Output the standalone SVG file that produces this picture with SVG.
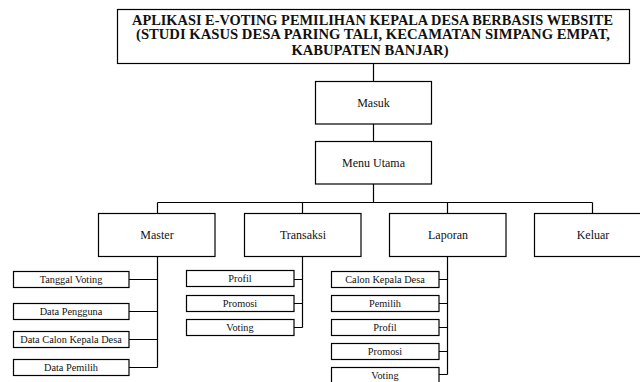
<svg xmlns="http://www.w3.org/2000/svg" width="640" height="382" viewBox="0 0 640 382">
<style>
.box{fill:#fff;stroke:#000;stroke-width:1.2}
.ln{fill:none;stroke:#000;stroke-width:1.2}
.t{font-family:"Liberation Serif","Times New Roman",serif;fill:#111;text-anchor:middle}
.title{font-size:14.5px;font-weight:bold}
.m{font-size:12px}
.s{font-size:10.3px}
</style>
<rect width="640" height="382" fill="#fff"/>
<g id="connectors">
<path class="ln" d="M373.5 64V82M373.5 124V141M373.5 184V202.5M157.5 202.5H592.5M157.5 202.5V213M302.5 202.5V213M447.5 202.5V213M592.5 202.5V213"/>
<path class="ln" d="M157.5 257V367.5M129 279.5H157.5M129 311.5H157.5M129 339.5H157.5M129 367.5H157.5"/>
<path class="ln" d="M302.5 257V327.5M294 279.5H302.5M294 303.5H302.5M294 327.5H302.5"/>
<path class="ln" d="M447.5 257V374.5M439 279.5H447.5M439 303.5H447.5M439 327.5H447.5M439 351.5H447.5M439 374.5H447.5"/>
</g>
<g id="title">
<rect class="box" x="117.5" y="9.5" width="512" height="54"/>
<text class="t title" x="372.5" y="24.5" textLength="481" lengthAdjust="spacingAndGlyphs">APLIKASI E-VOTING PEMILIHAN KEPALA DESA BERBASIS WEBSITE</text>
<text class="t title" x="373" y="39" textLength="474" lengthAdjust="spacingAndGlyphs">(STUDI KASUS DESA PARING TALI, KECAMATAN SIMPANG EMPAT,</text>
<text class="t title" x="370" y="55" textLength="157" lengthAdjust="spacingAndGlyphs">KABUPATEN BANJAR)</text>
</g>
<g id="masuk"><rect class="box" x="315.5" y="81.5" width="116" height="42.5"/><text class="t m" x="373.5" y="107">Masuk</text></g>
<g id="menu-utama"><rect class="box" x="315.5" y="141.5" width="116" height="42.5"/><text class="t m" x="373.5" y="167">Menu Utama</text></g>
<g id="master"><rect class="box" x="98.5" y="213.5" width="116.5" height="43"/><text class="t m" x="157" y="239">Master</text></g>
<g id="transaksi"><rect class="box" x="244.5" y="213.5" width="116.5" height="43"/><text class="t m" x="303" y="239">Transaksi</text></g>
<g id="laporan"><rect class="box" x="389.5" y="213.5" width="116.5" height="43"/><text class="t m" x="448" y="239">Laporan</text></g>
<g id="keluar"><rect class="box" x="534.5" y="213.5" width="116.5" height="43"/><text class="t m" x="593" y="239">Keluar</text></g>
<g id="tanggal-voting"><rect class="box" x="13.5" y="271.5" width="115.5" height="16"/><text class="t s" x="71" y="283">Tanggal Voting</text></g>
<g id="data-pengguna"><rect class="box" x="13.5" y="303.5" width="115.5" height="16"/><text class="t s" x="71" y="315">Data Pengguna</text></g>
<g id="data-calon"><rect class="box" x="13.5" y="331.5" width="115.5" height="16"/><text class="t s" x="71" y="343">Data Calon Kepala Desa</text></g>
<g id="data-pemilih"><rect class="box" x="13.5" y="359.5" width="115.5" height="16"/><text class="t s" x="71" y="371">Data Pemilih</text></g>
<g id="t-profil"><rect class="box" x="186.5" y="270.5" width="107.5" height="16"/><text class="t s" x="240" y="282">Profil</text></g>
<g id="t-promosi"><rect class="box" x="186.5" y="295.5" width="107.5" height="16"/><text class="t s" x="240" y="307">Promosi</text></g>
<g id="t-voting"><rect class="box" x="186.5" y="319.5" width="107.5" height="16"/><text class="t s" x="240" y="331">Voting</text></g>
<g id="l-calon"><rect class="box" x="331.5" y="271.5" width="107.5" height="16"/><text class="t s" x="385" y="283">Calon Kepala Desa</text></g>
<g id="l-pemilih"><rect class="box" x="331.5" y="295.5" width="107.5" height="16"/><text class="t s" x="385" y="307">Pemilih</text></g>
<g id="l-profil"><rect class="box" x="331.5" y="319.5" width="107.5" height="16"/><text class="t s" x="385" y="331">Profil</text></g>
<g id="l-promosi"><rect class="box" x="331.5" y="343.5" width="107.5" height="16"/><text class="t s" x="385" y="355">Promosi</text></g>
<g id="l-voting"><rect class="box" x="331.5" y="367.5" width="107.5" height="16"/><text class="t s" x="385" y="379">Voting</text></g>
</svg>
